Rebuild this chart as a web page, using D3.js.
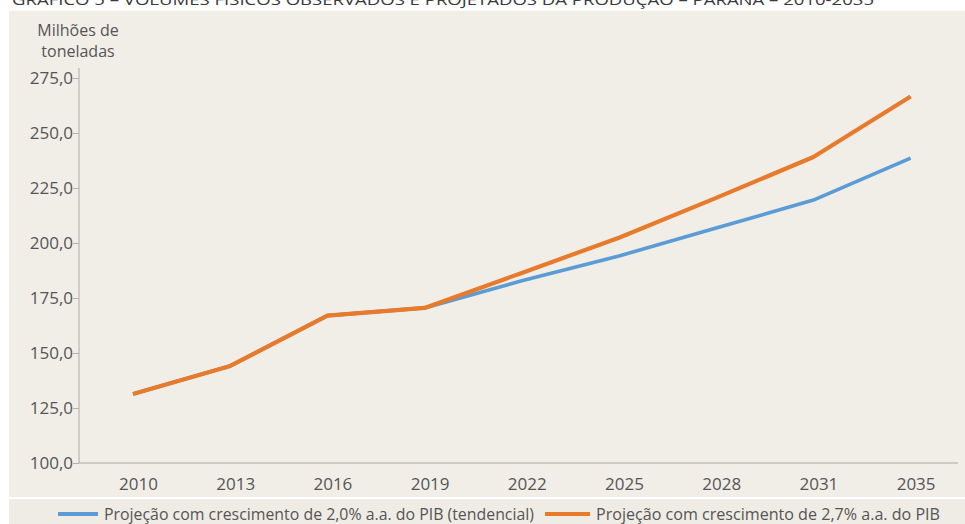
<!DOCTYPE html>
<html>
<head>
<meta charset="utf-8">
<script src="https://cdn.jsdelivr.net/npm/d3@7"></script>
<style>
  html, body { margin: 0; padding: 0; background: #ffffff; }
  svg { display: block; }
  text { font-family: "Open Sans", "Noto Sans", sans-serif; }
</style>
</head>
<body>
<svg id="chart" width="965" height="524"></svg>
<script>
// Produção do Paraná, milhões de toneladas (observado até 2019, projeções depois)
const years = ["2010", "2013", "2016", "2019", "2022", "2025", "2028", "2031", "2035"];
const pib20 = [131.4, 144.1, 167.0, 170.5, 182.8, 194.1, 206.8, 219.5, 238.6];
const pib27 = [131.4, 144.1, 167.0, 170.5, 186.4, 202.4, 220.5, 239.1, 266.6];
const yTicks = [100, 125, 150, 175, 200, 225, 250, 275];
const seriesNames = [
  "Projeção com crescimento de 2,0% a.a. do PIB (tendencial)",
  "Projeção com crescimento de 2,7% a.a. do PIB"
];
const titleText = "GRÁFICO 5 – VOLUMES FÍSICOS OBSERVADOS E PROJETADOS DA PRODUÇÃO – PARANÁ – 2010-2035";

const svg = d3.select("#chart");
const W = 965, H = 524;
const blue = "#5B9BD6", orange = "#E87A2C";
const panel = "#F1EEE8";

// Title (cropped at the top edge)
svg.append("text")
  .attr("x", 12).attr("y", 5)
  .attr("font-size", 15)
  .attr("fill", "#3a3a3a")
  .attr("textLength", 862)
  .attr("lengthAdjust", "spacingAndGlyphs")
  .text(titleText);

// Chart panel and legend band
svg.append("rect").attr("x", 9).attr("y", 11).attr("width", W - 9).attr("height", 486).attr("fill", panel);
svg.append("rect").attr("x", 9).attr("y", 499).attr("width", W - 9).attr("height", 25).attr("fill", "#EFECE5");

const x = d3.scalePoint().domain(years).range([133, 910.6]);
const y = d3.scaleLinear().domain([100, 275]).range([463, 78]);

// Y axis
const yAxis = svg.append("g").attr("transform", "translate(79,0)")
  .call(d3.axisLeft(y).tickValues(yTicks).tickSize(6).tickSizeOuter(0)
    .tickFormat(d => d3.format(".1f")(d).replace(".", ",")));
yAxis.select(".domain").attr("stroke", "#c4c1bb").attr("stroke-width", 1.5)
  .attr("d", `M0,68V${y(100)}`);
yAxis.selectAll(".tick line").attr("stroke", "#b5b2ac");
yAxis.selectAll(".tick text").attr("font-size", 17).attr("fill", "#555").attr("x", -6)
  .attr("font-family", "'Open Sans', sans-serif");

// X axis baseline and labels
const xAxis = svg.append("g").attr("transform", `translate(0,${y(100)})`)
  .call(d3.axisBottom(x).tickSize(0).tickPadding(11));
xAxis.select(".domain").attr("stroke", "#a9a6a0").attr("stroke-width", 1.2)
  .attr("d", `M79,0H958`);
xAxis.selectAll(".tick text").attr("font-size", 17).attr("fill", "#555").attr("dx", 5)
  .attr("dy", "0.95em")
  .attr("font-family", "'Open Sans', sans-serif");

// Axis title
const ttl = svg.append("text").attr("font-size", 16).attr("fill", "#555").attr("text-anchor", "middle");
ttl.append("tspan").attr("x", 78).attr("y", 36).text("Milhões de");
ttl.append("tspan").attr("x", 78).attr("y", 57).text("toneladas");

// Lines
const line = d3.line().x((d, i) => x(years[i])).y(d => y(d));
svg.append("path").datum(pib20).attr("d", line)
  .attr("fill", "none").attr("stroke", blue).attr("stroke-width", 3.6).attr("stroke-linejoin", "round");
svg.append("path").datum(pib27).attr("d", line)
  .attr("fill", "none").attr("stroke", orange).attr("stroke-width", 4.2).attr("stroke-linejoin", "round");

// Legend
const legend = [
  { name: seriesNames[0], color: blue, x0: 58, x1: 98, tx: 104, tw: 430 },
  { name: seriesNames[1], color: orange, x0: 545, x1: 590, tx: 596, tw: 344 }
];
legend.forEach(l => {
  svg.append("line").attr("x1", l.x0).attr("x2", l.x1).attr("y1", 514).attr("y2", 514)
    .attr("stroke", l.color).attr("stroke-width", 4);
  svg.append("text").attr("x", l.tx).attr("y", 520).attr("font-size", 15.5).attr("fill", "#555")
    .attr("textLength", l.tw).attr("lengthAdjust", "spacingAndGlyphs").text(l.name);
});
</script>
</body>
</html>
